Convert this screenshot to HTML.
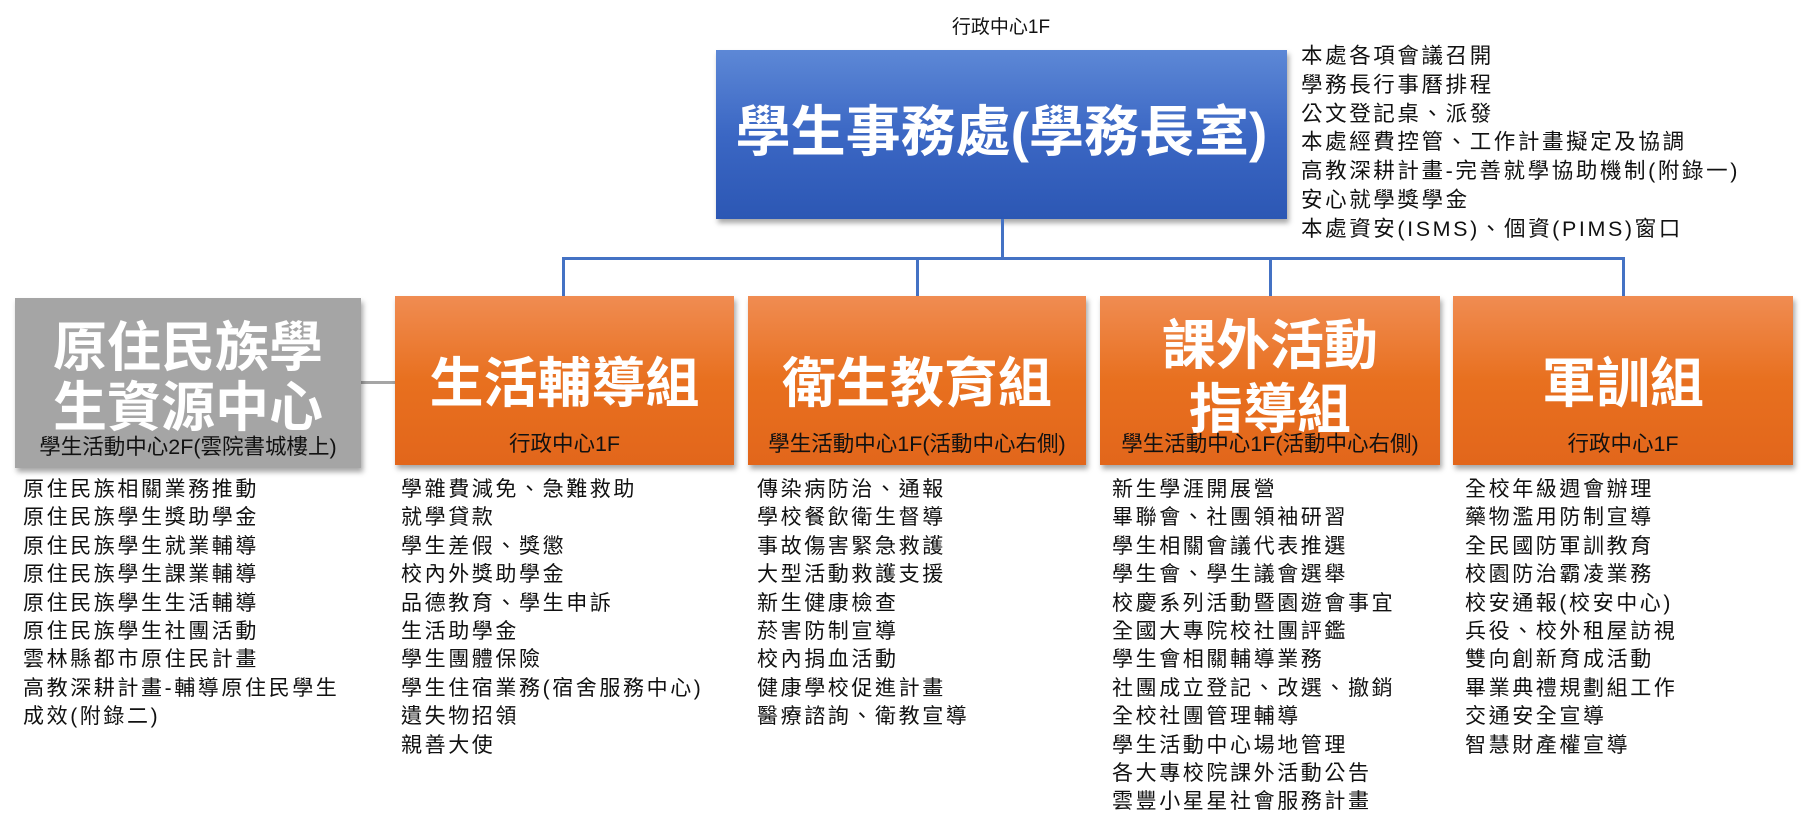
<!DOCTYPE html>
<html><head><meta charset="utf-8"><style>
body{margin:0;width:1809px;height:828px;background:#fff;position:relative;overflow:hidden;font-family:"Liberation Sans","Noto Sans CJK TC",sans-serif;}
.a{position:absolute;}
.box{position:absolute;color:#fff;text-align:center;box-shadow:2px 4px 5px rgba(0,0,0,.35);}
.or{background:linear-gradient(#f08c52,#e8701f 50%,#e2661b);}
.t{position:absolute;left:0;right:0;font-size:54px;line-height:60px;font-weight:bold;}
.s{position:absolute;left:0;right:0;bottom:8px;font-size:21.5px;color:#111;line-height:26px;white-space:nowrap;}
.list{position:absolute;font-size:21px;line-height:28.4px;letter-spacing:2.6px;color:#111;white-space:nowrap;}
.ln{position:absolute;background:#4472c4;}
</style></head><body>
<div class="a" style="left:940px;top:12px;width:122px;text-align:center;font-size:19px;color:#111">行政中心1F</div>
<div class="box" style="left:716px;top:50px;width:571px;height:169px;background:linear-gradient(#5d88d6,#3b67c4 50%,#2c57b4);">
<div class="t" style="top:52px;font-size:55px;">學生事務處(學務長室)</div></div>
<div class="list" style="left:1301px;top:42px;line-height:28.8px;font-size:21.5px;">本處各項會議召開<br>學務長行事曆排程<br>公文登記桌、派發<br>本處經費控管、工作計畫擬定及協調<br>高教深耕計畫-完善就學協助機制(附錄一)<br>安心就學獎學金<br>本處資安(ISMS)、個資(PIMS)窗口</div>
<div class="ln" style="left:1001px;top:219px;width:3px;height:40px"></div>
<div class="ln" style="left:562px;top:257px;width:1063px;height:3px"></div>
<div class="ln" style="left:562px;top:257px;width:3px;height:40px"></div>
<div class="ln" style="left:916px;top:257px;width:3px;height:40px"></div>
<div class="ln" style="left:1269px;top:257px;width:3px;height:40px"></div>
<div class="ln" style="left:1622px;top:257px;width:3px;height:40px"></div>
<div class="a" style="left:360px;top:381px;width:36px;height:3px;background:#a5a5a5"></div>
<div class="box" style="left:15px;top:298px;width:346px;height:170px;background:#a5a5a5;">
<div class="t" style="top:20px;line-height:60px">原住民族學<br>生資源中心</div><div class="s">學生活動中心2F(雲院書城樓上)</div></div>
<div class="box or" style="left:395px;top:296px;width:339px;height:169px;"><div class="t" style="top:58px">生活輔導組</div><div class="s">行政中心1F</div></div>
<div class="box or" style="left:748px;top:296px;width:338px;height:169px;"><div class="t" style="top:58px">衛生教育組</div><div class="s">學生活動中心1F(活動中心右側)</div></div>
<div class="box or" style="left:1100px;top:296px;width:340px;height:169px;"><div class="t" style="top:18px;line-height:64px">課外活動<br>指導組</div><div class="s">學生活動中心1F(活動中心右側)</div></div>
<div class="box or" style="left:1453px;top:296px;width:340px;height:169px;"><div class="t" style="top:58px">軍訓組</div><div class="s">行政中心1F</div></div>
<div class="list" style="left:23px;top:476px">原住民族相關業務推動<br>原住民族學生獎助學金<br>原住民族學生就業輔導<br>原住民族學生課業輔導<br>原住民族學生生活輔導<br>原住民族學生社團活動<br>雲林縣都市原住民計畫<br>高教深耕計畫-輔導原住民學生<br>成效(附錄二)</div>
<div class="list" style="left:401px;top:476px">學雜費減免、急難救助<br>就學貸款<br>學生差假、獎懲<br>校內外獎助學金<br>品德教育、學生申訴<br>生活助學金<br>學生團體保險<br>學生住宿業務(宿舍服務中心)<br>遺失物招領<br>親善大使</div>
<div class="list" style="left:757px;top:476px">傳染病防治、通報<br>學校餐飲衛生督導<br>事故傷害緊急救護<br>大型活動救護支援<br>新生健康檢查<br>菸害防制宣導<br>校內捐血活動<br>健康學校促進計畫<br>醫療諮詢、衛教宣導</div>
<div class="list" style="left:1112px;top:476px">新生學涯開展營<br>畢聯會、社團領袖研習<br>學生相關會議代表推選<br>學生會、學生議會選舉<br>校慶系列活動暨園遊會事宜<br>全國大專院校社團評鑑<br>學生會相關輔導業務<br>社團成立登記、改選、撤銷<br>全校社團管理輔導<br>學生活動中心場地管理<br>各大專校院課外活動公告<br>雲豐小星星社會服務計畫</div>
<div class="list" style="left:1465px;top:476px">全校年級週會辦理<br>藥物濫用防制宣導<br>全民國防軍訓教育<br>校園防治霸凌業務<br>校安通報(校安中心)<br>兵役、校外租屋訪視<br>雙向創新育成活動<br>畢業典禮規劃組工作<br>交通安全宣導<br>智慧財產權宣導</div>
</body></html>
